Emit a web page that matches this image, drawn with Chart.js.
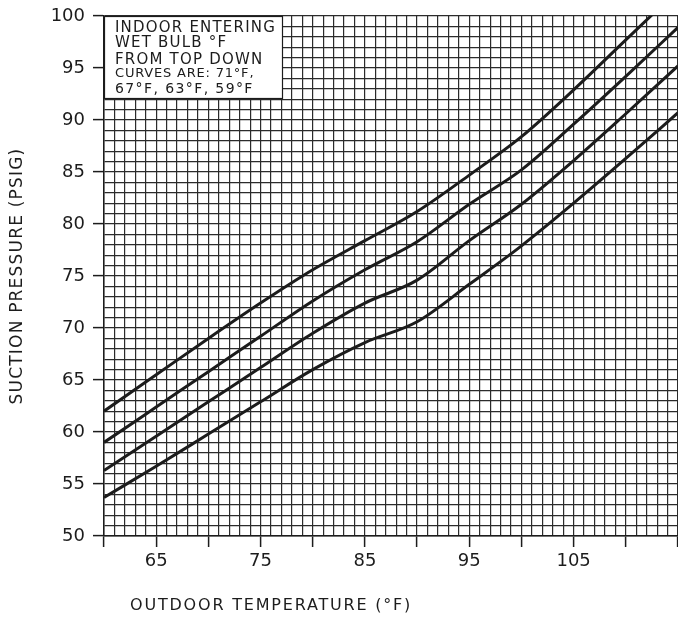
<!DOCTYPE html>
<html>
<head>
<meta charset="utf-8">
<script src="https://cdn.jsdelivr.net/npm/chart.js@4"></script>
<style>
  body { margin: 0; background: #fff; }
  canvas { display: block; }
</style>
</head>
<body>
<canvas id="chart" width="678" height="619"></canvas>
<script>
// outdoor temperature (°F) sample points
const temps = [60, 65, 70, 75, 80, 85, 90, 95, 100, 105, 110, 115];
// suction pressure (psig) per indoor wet bulb curve
const wb71 = [62.0, 65.5, 69.0, 72.4, 75.6, 78.4, 81.2, 84.7, 88.4, 92.9, 97.7, 102.5];
const wb67 = [59.0, 62.4, 65.8, 69.2, 72.6, 75.6, 78.3, 81.9, 85.2, 89.6, 94.2, 98.9];
const wb63 = [56.3, 59.6, 62.9, 66.2, 69.5, 72.4, 74.6, 78.4, 81.9, 86.1, 90.6, 95.2];
const wb59 = [53.7, 56.7, 59.8, 62.9, 66.0, 68.6, 70.6, 74.2, 77.9, 82.0, 86.3, 90.7];
const series = [wb71, wb67, wb63, wb59];

const xLabelTicks = [65, 75, 85, 95, 105];
const noteLines = ['INDOOR ENTERING', 'WET BULB °F', 'FROM TOP DOWN', 'CURVES ARE: 71°F,', '67°F, 63°F, 59°F'];

const ink = '#1c1c1c';
const gridColor = '#2b2b2b';
const font = '"DejaVu Sans", sans-serif';

const lineDatasets = series.map(vals => ({
  data: temps.map((t, i) => ({ x: t, y: vals[i] })),
  borderColor: ink,
  borderWidth: 3,
  pointRadius: 0,
  tension: 0.4,
  cubicInterpolationMode: 'monotone',
  fill: false,
  clip: 0
}));

// note box in the top-left corner and the axis titles
const notesPlugin = {
  id: 'notes',
  afterDraw(chart) {
    const { ctx, chartArea: { left, top, bottom } } = chart;
    ctx.save();
    ctx.fillStyle = '#fff';
    ctx.fillRect(left, top, 178, 82);
    ctx.strokeStyle = ink;
    ctx.lineWidth = 1.2;
    ctx.strokeRect(left + 0.5, top + 0.5, 178, 82);

    ctx.fillStyle = ink;
    ctx.textBaseline = 'alphabetic';
    ctx.textAlign = 'left';
    const sizes = [15, 15, 15, 13, 14];
    const spacing = ['1.2px', '1.2px', '1.2px', '0.8px', '1.4px'];
    const baselines = [31.5, 47, 63.5, 76.5, 93];
    noteLines.forEach((txt, i) => {
      ctx.font = sizes[i] + 'px ' + font;
      ctx.letterSpacing = spacing[i];
      ctx.fillText(txt, left + 11, baselines[i]);
    });

    // x axis title
    ctx.font = '16px ' + font;
    ctx.letterSpacing = '1.8px';
    ctx.textBaseline = 'middle';
    ctx.fillText('OUTDOOR TEMPERATURE (°F)', left + 26, 606);

    // y axis title
    ctx.font = '17px ' + font;
    ctx.letterSpacing = '1.2px';
    ctx.translate(18, (top + bottom) / 2);
    ctx.rotate(-Math.PI / 2);
    ctx.textAlign = 'center';
    ctx.fillText('SUCTION PRESSURE (PSIG)', 0, 0);
    ctx.restore();
  }
};

const markFive = (c) => (c.tick && c.tick.value % 5 === 0) ? ink : 'rgba(0,0,0,0)';

new Chart(document.getElementById('chart'), {
  type: 'line',
  data: { datasets: lineDatasets },
  options: {
    responsive: false,
    animation: false,
    events: [],
    layout: { padding: { top: 16, right: 0, left: 0, bottom: 0 } },
    plugins: {
      legend: { display: false },
      tooltip: { enabled: false }
    },
    scales: {
      x: {
        type: 'linear',
        min: 60,
        max: 115,
        afterFit(scale) {
          scale.height = 83;
          scale.paddingLeft = 0;
          scale.paddingRight = 0;
        },
        border: { color: ink, width: 1.5 },
        grid: {
          color: gridColor,
          lineWidth: 1.2,
          tickLength: 11,
          tickColor: markFive,
          tickWidth: 1.5
        },
        ticks: {
          stepSize: 1,
          autoSkip: false,
          maxRotation: 0,
          padding: 4,
          color: ink,
          font: { family: font, size: 18 },
          callback: (v) => xLabelTicks.includes(v) ? String(v) : ''
        }
      },
      y: {
        min: 50,
        max: 100,
        afterFit(scale) {
          scale.width = 104;
          scale.paddingTop = 0;
          scale.paddingBottom = 0;
        },
        border: { color: ink, width: 1.5 },
        grid: {
          color: gridColor,
          lineWidth: 1.2,
          tickLength: 11,
          tickColor: markFive,
          tickWidth: 1.5
        },
        ticks: {
          stepSize: 1,
          autoSkip: false,
          padding: 8,
          color: ink,
          font: { family: font, size: 18 },
          callback: (v) => v % 5 === 0 ? String(v) : ''
        }
      }
    }
  },
  plugins: [notesPlugin]
});
</script>
</body>
</html>
